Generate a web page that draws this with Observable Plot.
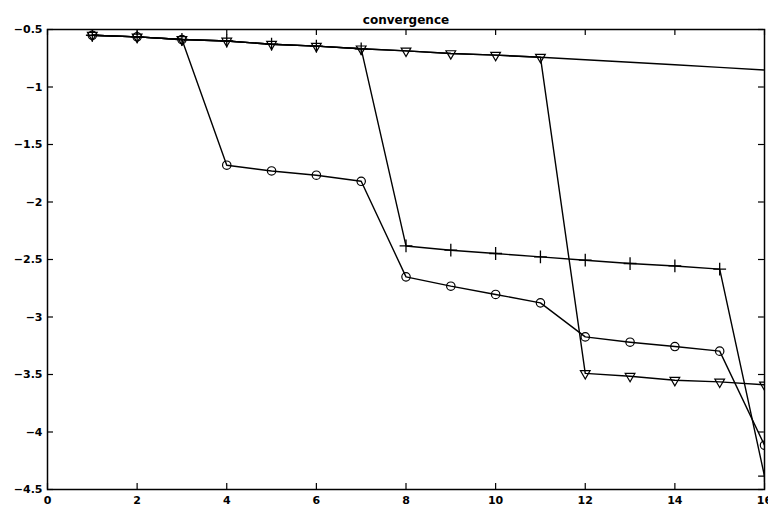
<!DOCTYPE html>
<html><head><meta charset="utf-8">
<script src="https://cdn.jsdelivr.net/npm/d3@7"></script>
<script src="https://cdn.jsdelivr.net/npm/@observablehq/plot@0.6"></script>
<style>html,body{margin:0;padding:0;background:#fff} svg{display:block}</style>
</head><body><div id="chart"></div>
<script>
const title = "convergence";
const iterations = [1, 2, 3, 4, 5, 6, 7, 8, 9, 10, 11, 12, 13, 14, 15, 16];
const plainSeries = [-0.55, -0.564, -0.587, -0.6, -0.628, -0.645, -0.668, -0.686, -0.709, -0.723, -0.741, -0.763, -0.785, -0.807, -0.829, -0.852];
const triangleSeries = [-0.55, -0.564, -0.587, -0.6, -0.628, -0.645, -0.668, -0.686, -0.709, -0.723, -0.741, -3.49, -3.515, -3.55, -3.564, -3.59];
const plusSeries = [-0.55, -0.564, -0.587, -0.6, -0.628, -0.645, -0.668, -2.382, -2.419, -2.448, -2.477, -2.506, -2.535, -2.556, -2.584, -4.384];
const circleSeries = [-0.55, -0.564, -0.587, -1.68, -1.73, -1.767, -1.82, -2.651, -2.732, -2.804, -2.877, -3.173, -3.219, -3.257, -3.297, -4.115];
const xTicks = [0, 2, 4, 6, 8, 10, 12, 14, 16];
const yTicks = [-4.5, -4, -3.5, -3, -2.5, -2, -1.5, -1, -0.5];

const rows = (vals) => vals.map((v, i) => ({x: iterations[i], y: v}));
const plainData = rows(plainSeries);
const triData = rows(triangleSeries);
const plusData = rows(plusSeries);
const circData = rows(circleSeries);
const fmt = d => String(d).replace("-", "\u2212");
const lw = 1.4;

const chart = Plot.plot({
  width: 768,
  height: 510,
  marginLeft: 47,
  marginRight: 4,
  marginTop: 29,
  marginBottom: 21,
  style: {fontFamily: "DejaVu Sans", fontSize: "11px", fontWeight: "bold", color: "black", background: "white"},
  x: {domain: [0, 16]},
  y: {domain: [-4.5, -0.5]},
  marks: [
    Plot.axisX(xTicks, {anchor: "bottom", tickSize: 0, tickPadding: 7, tickFormat: fmt, label: null}),
    Plot.axisY(yTicks, {anchor: "left", tickSize: 0, tickPadding: 5, tickFormat: fmt, label: null}),
    Plot.tickX(xTicks, {x: d => d, insetTop: 454, stroke: "black", strokeWidth: 1.2}),
    Plot.tickX(xTicks, {x: d => d, insetBottom: 454, stroke: "black", strokeWidth: 1.2}),
    Plot.tickY(yTicks, {y: d => d, insetRight: 711, stroke: "black", strokeWidth: 1.2}),
    Plot.tickY(yTicks, {y: d => d, insetLeft: 711, stroke: "black", strokeWidth: 1.2}),
    Plot.line(plainData, {x: "x", y: "y", stroke: "black", strokeWidth: lw, clip: true}),
    Plot.line(triData, {x: "x", y: "y", stroke: "black", strokeWidth: lw, clip: true}),
    Plot.line(plusData, {x: "x", y: "y", stroke: "black", strokeWidth: lw, clip: true}),
    Plot.line(circData, {x: "x", y: "y", stroke: "black", strokeWidth: lw, clip: true}),
    Plot.dot(triData, {x: "x", y: "y", symbol: "triangle", rotate: 180, r: 3.6, stroke: "black", fill: "none", strokeWidth: 1.2, clip: true}),
    Plot.dot(plusData, {x: "x", y: "y", symbol: "plus", r: 4.2, stroke: "black", strokeWidth: 1.3, clip: true}),
    Plot.dot(circData, {x: "x", y: "y", symbol: "circle", r: 4.2, stroke: "black", fill: "none", strokeWidth: 1.2, clip: true}),
    Plot.frame({stroke: "black", strokeWidth: 1.5}),
    Plot.text([title], {frameAnchor: "top", dy: -14, text: d => d, fontSize: 12, fontWeight: "bold", fill: "black"})
  ]
});
document.getElementById("chart").appendChild(chart);
</script>
</body></html>
